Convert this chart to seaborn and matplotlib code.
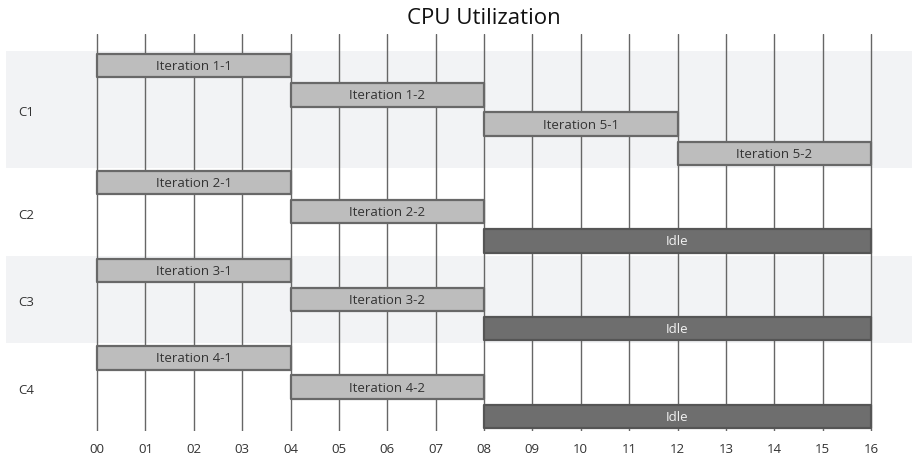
import matplotlib
matplotlib.use("Agg")
import matplotlib.pyplot as plt
import pandas as pd
import seaborn as sns

# gantt rows, top to bottom
sections = ["C1", "C1", "C1", "C1", "C2", "C2", "C2", "C3", "C3", "C3", "C4", "C4", "C4"]
tasks = ["Iteration 1-1", "Iteration 1-2", "Iteration 5-1", "Iteration 5-2",
         "Iteration 2-1", "Iteration 2-2", "Idle",
         "Iteration 3-1", "Iteration 3-2", "Idle",
         "Iteration 4-1", "Iteration 4-2", "Idle"]
starts = [0, 4, 8, 12, 0, 4, 8, 0, 4, 8, 0, 4, 8]
ends = [4, 8, 12, 16, 4, 8, 16, 4, 8, 16, 4, 8, 16]
tick_labels = ["%02d" % h for h in range(17)]

df = pd.DataFrame({"section": sections, "task": tasks, "start": starts, "end": ends})
df["row"] = range(len(df))
df["dur"] = df["end"] - df["start"]

sns.set_theme(style="white")
plt.rcParams["font.family"] = ["Open Sans", "DejaVu Sans"]

W, H = 914, 456
fig = plt.figure(figsize=(W / 100, H / 100), dpi=100)
# axes placed in pixel terms: left 6, right 912, top 35, bottom 432
ax = fig.add_axes([6 / W, 1 - 432 / H, (912 - 6) / W, (432 - 35) / H])

px = 48.375  # pixels per hour
ax.set_xlim(-(97 - 6) / px, (912 - 97) / px)
ax.set_ylim(12.5, -1.08)

# section bands
sec_names = list(dict.fromkeys(sections))
for i, s in enumerate(sec_names):
    rows = df.loc[df["section"] == s, "row"]
    lo, hi = rows.min() - 0.5, rows.max() + 0.5
    if i % 2 == 0:
        ax.axhspan(lo, hi, color="#f2f3f5", zorder=0, lw=0)
    ax.text(-(97 - 18) / px, (lo + hi) / 2 + 0.08, s, ha="left", va="center",
            fontsize=9.5, color="#333333")

# grid
for h in range(17):
    ax.axvline(h, color="#666666", lw=1.0, zorder=1)

# bars
for _, r in df.iterrows():
    idle = r["task"] == "Idle"
    bars = ax.barh(r["row"], r["dur"], left=r["start"], height=0.8,
                   color="#6e6e6e" if idle else "#bdbdbd",
                   edgecolor="#555555" if idle else "#686868",
                   linewidth=1.6, zorder=2)
    for b in bars:
        b.set_joinstyle("round")
    ax.text((r["start"] + r["end"]) / 2, r["row"], r["task"], ha="center", va="center",
            fontsize=9.5, color="#f2f2f2" if idle else "#333333", zorder=3)

ax.set_xticks(range(17))
ax.set_xticklabels(tick_labels, fontsize=9.5, color="#333333")
ax.tick_params(axis="x", length=0, pad=8)
ax.set_yticks([])
sns.despine(ax=ax, left=True, bottom=True)
ax.set_xlabel("")
ax.set_ylabel("")

fig.text(484 / W, 1 - 18 / H, "CPU Utilization", ha="center", va="center",
         fontsize=16, color="#111111")

fig.savefig("out.png", dpi=100)
